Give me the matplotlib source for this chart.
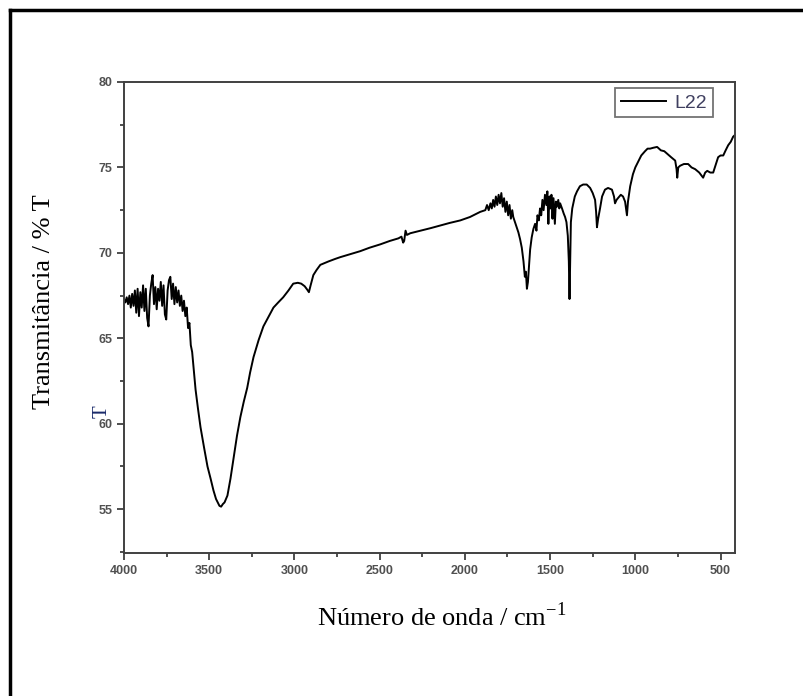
import matplotlib
matplotlib.use("Agg")
import matplotlib.pyplot as plt
from matplotlib.lines import Line2D
from matplotlib.ticker import MultipleLocator

# FTIR spectrum of sample L22
wavenumber = [
    4000, 3992, 3984, 3976, 3968, 3960, 3952, 3944, 3936, 3928, 3920, 3912,
    3904, 3896, 3888, 3880, 3872, 3864, 3856, 3848, 3840, 3832, 3824, 3816,
    3808, 3800, 3792, 3784, 3776, 3768, 3760, 3752, 3744, 3736, 3728, 3720,
    3712, 3704, 3696, 3688, 3680, 3672, 3664, 3656, 3648, 3640, 3632, 3624,
    3616, 3608, 3600, 3592, 3580, 3566, 3551, 3530, 3510, 3492, 3475, 3460,
    3450, 3440, 3430, 3420, 3410, 3393, 3375, 3357, 3337, 3317, 3297, 3277,
    3260, 3240, 3210, 3182, 3150, 3123, 3095, 3066, 3035, 3007, 2980, 2960,
    2940, 2925, 2915, 2905, 2889, 2870, 2848, 2800, 2760, 2731, 2680, 2614,
    2560, 2496, 2440, 2390, 2372, 2362, 2356, 2348, 2340, 2320, 2260, 2200,
    2144, 2090, 2027, 1970, 1910, 1880, 1870, 1860, 1850, 1842, 1834, 1826,
    1818, 1810, 1802, 1794, 1786, 1778, 1770, 1762, 1754, 1746, 1738, 1730,
    1722, 1716, 1706, 1696, 1686, 1676, 1666, 1656, 1648, 1642, 1636, 1630,
    1624, 1617, 1608, 1598, 1588, 1580, 1574, 1566, 1559, 1552, 1545, 1538,
    1530, 1522, 1516, 1510, 1504, 1498, 1492, 1486, 1480, 1472, 1466, 1460,
    1452, 1446, 1441, 1430, 1420, 1412, 1404, 1396, 1390, 1386, 1383, 1378,
    1370, 1355, 1342, 1325, 1306, 1285, 1265, 1250, 1236, 1230, 1225, 1218,
    1207, 1195, 1178, 1160, 1137, 1125, 1119, 1110, 1102, 1085, 1072, 1060,
    1052, 1049, 1043, 1030, 1014, 1000, 985, 965, 943, 928, 913, 895,
    872, 850, 830, 813, 790, 766, 758, 754, 748, 737, 715, 690,
    670, 649, 625, 610, 602, 590, 578, 560, 543, 530, 514, 500,
    484, 470, 455, 440, 426, 415, 400,
]
transmittance = [
    67.3, 67.1, 67.4, 67.0, 67.5, 66.8, 67.6, 66.9, 67.8, 66.5, 67.9, 66.3,
    67.7, 66.8, 68.1, 66.6, 67.9, 66.2, 65.7, 67.5, 68.2, 68.7, 67.0, 68.0,
    66.7, 67.9, 67.2, 68.3, 66.9, 68.1, 66.4, 66.1, 67.8, 68.4, 68.6, 67.3,
    68.2, 67.0, 68.0, 67.1, 67.8, 66.9, 67.5, 66.6, 67.2, 66.3, 66.8, 65.6,
    65.9, 64.6, 64.2, 63.3, 62.0, 60.9, 59.8, 58.6, 57.5, 56.8, 56.1, 55.6,
    55.4, 55.2, 55.15, 55.3, 55.4, 55.8, 56.8, 58.0, 59.3, 60.4, 61.3, 62.1,
    63.0, 63.9, 64.9, 65.7, 66.3, 66.8, 67.1, 67.4, 67.8, 68.2, 68.25, 68.2,
    68.05, 67.85, 67.7, 68.1, 68.7, 69.0, 69.3, 69.5, 69.65, 69.75, 69.9, 70.1,
    70.3, 70.5, 70.7, 70.85, 70.95, 70.6, 70.7, 71.3, 71.05, 71.15, 71.3, 71.45,
    71.6, 71.75, 71.9, 72.1, 72.4, 72.5, 72.8, 72.5, 72.9, 72.6, 73.1, 72.7,
    73.3, 72.8, 73.4, 72.9, 73.5, 72.7, 73.2, 72.4, 73.0, 72.2, 72.8, 72.0,
    72.5, 72.1, 71.8, 71.5, 71.2, 70.8, 70.3, 69.5, 68.6, 68.9, 67.9, 68.3,
    69.2, 70.2, 70.9, 71.4, 71.7, 71.3, 72.2, 71.9, 72.6, 72.2, 73.1, 72.5,
    73.4, 72.8, 73.6, 71.7, 73.3, 72.6, 73.4, 72.0, 73.2, 71.7, 73.0, 72.7,
    73.1, 72.6, 72.9, 72.6, 72.3, 72.1, 71.8, 71.0, 69.5, 67.3, 69.0, 71.8,
    72.6, 73.3, 73.6, 73.9, 74.0, 74.0, 73.8, 73.5, 73.1, 72.4, 71.5, 72.0,
    72.6, 73.3, 73.7, 73.8, 73.7, 73.3, 72.9, 73.1, 73.2, 73.4, 73.3, 73.0,
    72.4, 72.2, 73.0, 73.9, 74.6, 75.0, 75.3, 75.7, 75.95, 76.1, 76.1, 76.15,
    76.2, 76.0, 75.95, 75.8, 75.6, 75.4, 74.9, 74.4, 75.0, 75.1, 75.2, 75.2,
    75.0, 74.9, 74.7, 74.5, 74.4, 74.7, 74.8, 74.7, 74.7, 75.1, 75.6, 75.7,
    75.7, 76.0, 76.3, 76.5, 76.8, 76.9, 77.0,
]

x_ticks = [4000, 3500, 3000, 2500, 2000, 1500, 1000, 500]
y_ticks = [55, 60, 65, 70, 75, 80]

fig = plt.figure(figsize=(8.04, 6.96), dpi=100)
ax = fig.add_axes([0.1542, 0.2055, 0.760, 0.6767])

ax.plot(wavenumber, transmittance, color="black", lw=1.4, label="L22")
ax.set_xlim(4000, 415)
ax.set_ylim(52.44, 80)

ax.set_xticks(x_ticks)
ax.set_yticks(y_ticks)
ax.xaxis.set_minor_locator(MultipleLocator(250))
ax.yaxis.set_minor_locator(MultipleLocator(2.5))
ax.tick_params(which="major", direction="out", length=5, width=1.3,
               color="#404040", labelsize=9, labelcolor="#505050")
ax.tick_params(which="minor", direction="out", length=3, width=1.3,
               color="#404040")
for lab in ax.get_xticklabels() + ax.get_yticklabels():
    lab.set_fontfamily("Liberation Sans")
    lab.set_fontweight("bold")
for sp in ax.spines.values():
    sp.set_color("#404040")
    sp.set_linewidth(1.4)

fig.text(442 / 804, 1 - 617 / 696, "Número de onda / cm$^{\\mathregular{-1}}$",
         fontfamily="Liberation Serif", fontsize=19, ha="center", va="center")
fig.text(44 / 804, 1 - 302 / 696, "Transmitância / % T", rotation=90,
         fontfamily="Liberation Serif", fontsize=19, ha="center", va="center")
# stray glyph next to the 60 label
fig.text(102 / 804, 1 - 412 / 696, "T", rotation=90, color="#1a2a6a",
         fontfamily="Liberation Serif", fontsize=15, ha="center", va="center")

leg = ax.legend(loc="upper right", bbox_to_anchor=(0.964, 0.987),
                borderaxespad=0, fancybox=False, handlelength=2.3,
                handletextpad=0.45, borderpad=0.3,
                prop={"family": "Liberation Sans", "size": 14})
leg.get_frame().set_edgecolor("#505050")
leg.get_frame().set_linewidth(1.3)
for t in leg.get_texts():
    t.set_color("#404060")

# outer frame (only left and top edges are visible)
fig.add_artist(Line2D([10 / 804, 10 / 804], [0, 1 - 10 / 696],
                      color="black", lw=2.5, transform=fig.transFigure))
fig.add_artist(Line2D([10 / 804, 1], [1 - 10 / 696, 1 - 10 / 696],
                      color="black", lw=2.5, transform=fig.transFigure))

fig.savefig("out.png", dpi=100)
